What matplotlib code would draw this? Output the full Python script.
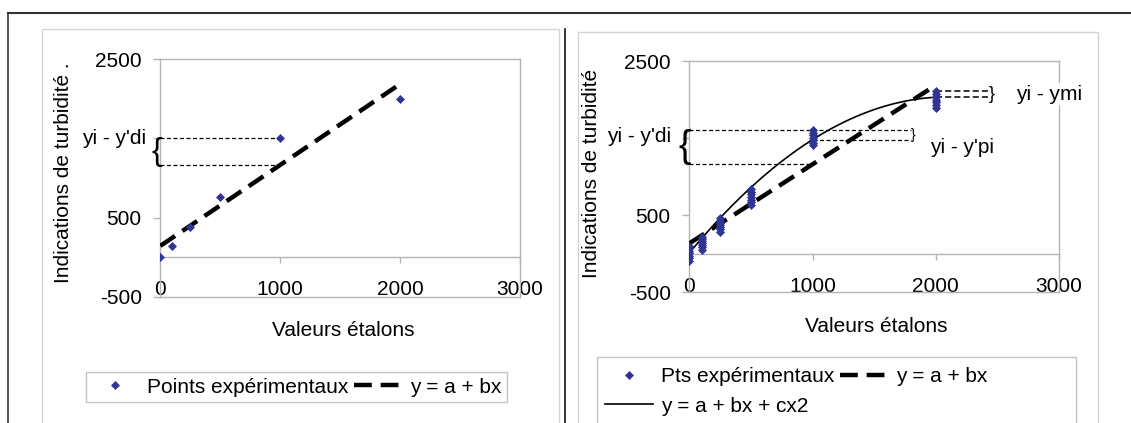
# -*- coding: utf-8 -*-
"""
Indications de turbidité vs valeurs étalons :
droite d'étalonnage (gauche) et comparaison linéaire / quadratique (droite).
"""
import numpy as np
import matplotlib
matplotlib.use("Agg")
import matplotlib.pyplot as plt
from matplotlib.lines import Line2D
from matplotlib.patches import Rectangle
from matplotlib.ticker import FuncFormatter

# ---- données ----
x_etalons = [0, 100, 250, 500, 1000, 2000]
y_gauche = [0, 145, 385, 760, 1500, 2000]
# répétitions pour chaque étalon (graphique de droite)
y_droite = [
    [-90, -55, -25, 5, 35, 70, 100],
    [55, 85, 110, 135, 165, 190, 220],
    [285, 315, 345, 370, 400, 430, 465],
    [635, 670, 700, 735, 770, 805, 840],
    [1405, 1440, 1470, 1500, 1535, 1565, 1600],
    [1895, 1930, 1965, 2000, 2035, 2070, 2105],
]
# coefficients lus pour y = a + bx + cx2  (ordre numpy : c, b, a)
coef_quad = [-4.6e-4, 1.93, 10]

xticks = [0, 1000, 2000, 3000]
yticks = [-500, 500, 1500, 2500]
xlabel = "Valeurs étalons"

W, H = 1131, 423
BLEU = "#2f3496"
GRIS = "#b4b4b4"
FS = 15

plt.rcParams["font.family"] = ["Liberation Sans", "DejaVu Sans"]
plt.rcParams["axes.unicode_minus"] = False
fig = plt.figure(figsize=(W / 100, H / 100), dpi=100)


def fx(px):
    return px / W


def fy(py):
    return 1 - py / H


# cadre du document
fig.add_artist(Line2D([fx(8), 1], [fy(12.7), fy(12.7)], color="#333333", lw=1.5))
fig.add_artist(Line2D([fx(8), fx(8)], [fy(12.7), 0], color="#333333", lw=1.2))
fig.add_artist(Line2D([fx(565), fx(565)], [fy(29), 0], color="#111111", lw=1.2))
# zones de graphique
fig.add_artist(Rectangle((fx(41.7), -0.1), fx(559) - fx(41.7), fy(29.5) + 0.1,
                         fill=False, ec="#d4d4d4", lw=1))
fig.add_artist(Rectangle((fx(577.7), -0.1), fx(1098.3) - fx(577.7), fy(31.7) + 0.1,
                         fill=False, ec="#d4d4d4", lw=1))

# l'étiquette 1500 est masquée par l'annotation yi - y'di
fmt_y = FuncFormatter(lambda v, p: "" if v == 1500 else f"{v:.0f}")


def prepare_axe(ax):
    ax.set_xlim(0, 3000)
    ax.set_ylim(-500, 2500)
    ax.set_xticks(xticks)
    ax.set_yticks(yticks)
    ax.yaxis.set_major_formatter(fmt_y)
    ax.spines["bottom"].set_position(("data", 0))
    for s in ax.spines.values():
        s.set_color(GRIS)
        s.set_linewidth(1)
    ax.axhline(-500, color=GRIS, lw=1, clip_on=False)
    ax.tick_params(axis="y", direction="out", length=5, width=1, color=GRIS,
                   pad=8.4, labelsize=FS)
    ax.tick_params(axis="x", direction="out", length=4.3, width=1, color=GRIS,
                   pad=12.5, labelsize=FS)


lin_style = dict(color="black", lw=3.2, dashes=(4, 2), solid_capstyle="butt",
                 dash_capstyle="butt")
fin_style = dict(color="black", lw=0.9, linestyle=(0, (3.2, 2)))
pts_style = dict(linestyle="none", marker="D", ms=3.6, mfc=BLEU, mec=BLEU, mew=0.5)

# ---------------- graphique de gauche ----------------
ax1 = fig.add_axes([fx(160.3), fy(296.7), fx(520) - fx(160.3), fy(59.3) - fy(296.7)])
prepare_axe(ax1)
b1, a1 = np.polyfit(x_etalons, y_gauche, 1)
xl = np.array([min(x_etalons), max(x_etalons)])
ax1.plot(xl, a1 + b1 * xl, zorder=3, **lin_style)
ax1.plot(x_etalons, y_gauche, zorder=4, **pts_style)

xi = x_etalons[4]
y_haut = y_gauche[4]
y_bas = a1 + b1 * xi
ax1.plot([0, xi], [y_haut, y_haut], clip_on=False, **fin_style)
ax1.plot([0, xi], [y_bas, y_bas], clip_on=False, **fin_style)
ax1.text(-30, (y_haut + y_bas) / 2, "{", fontsize=23, ha="center", va="center")
ax1.text(-120, y_haut, "yi - y'di", fontsize=FS, ha="right", va="center",
         bbox=dict(fc="white", ec="none", pad=1), zorder=5)

fig.text(fx(63.3), fy(173), "Indications de turbidité .", rotation=90,
         fontsize=FS, ha="center", va="center")
fig.text(fx(343), fy(330), xlabel, fontsize=FS, ha="center", va="center")

h_pts = Line2D([], [], **pts_style)
h_lin = Line2D([], [], **lin_style)
h_quad = Line2D([], [], color="black", lw=1.2)
leg_style = dict(fontsize=FS, fancybox=False, framealpha=1,
                 edgecolor="#c4c4c4", borderaxespad=0, borderpad=0.25,
                 handlelength=2.3, handletextpad=0.4, columnspacing=0.25,
                 numpoints=1)
leg1 = fig.legend([h_pts, h_lin], ["Points expérimentaux", "y = a + bx"], ncol=2,
                  loc="upper left", bbox_to_anchor=(fx(85.7), fy(372.3)),
                  frameon=True, **leg_style)
leg1.get_frame().set_linewidth(1)

# ---------------- graphique de droite ----------------
ax2 = fig.add_axes([fx(689.3), fy(292.3), fx(1059) - fx(689.3), fy(61) - fy(292.3)])
prepare_axe(ax2)
xs = np.repeat(x_etalons, [len(r) for r in y_droite])
ys = np.concatenate(y_droite)
b2, a2 = np.polyfit(xs, ys, 1)
xc = np.linspace(0, max(x_etalons), 200)
ax2.plot(xl, a2 + b2 * xl, zorder=3, **lin_style)
ax2.plot(xc, np.polyval(coef_quad, xc), color="black", lw=1.2, zorder=3)
ax2.plot(xs, ys, zorder=4, **pts_style)

# écarts au point 1000
xi = x_etalons[4]
y_haut = max(y_droite[4])
y_lin = a2 + b2 * xi
y_quad = np.polyval(coef_quad, xi)
ax2.plot([0, 1800], [y_haut, y_haut], clip_on=False, **fin_style)
ax2.plot([0, xi], [y_lin, y_lin], clip_on=False, **fin_style)
ax2.plot([xi, 1800], [y_quad, y_quad], clip_on=False, **fin_style)
ax2.text(-35, (y_haut + y_lin) / 2, "{", fontsize=27, ha="center", va="center")
ax2.text(-148, y_haut - 80, "yi - y'di", fontsize=FS, ha="right", va="center",
         bbox=dict(fc="white", ec="none", pad=1), zorder=5)
ax2.text(1818, (y_haut + y_quad) / 2, "}", fontsize=10, ha="center", va="center")
ax2.text(1952, 1376, "yi - y'pi", fontsize=FS, ha="left", va="center")

# écarts au point 2000
xj = x_etalons[5]
y_haut2 = max(y_droite[5])
y_quad2 = np.polyval(coef_quad, xj)
big_dash = dict(color="black", lw=1.1, linestyle=(0, (4, 2)))
ax2.plot([xj, 2420], [y_haut2, y_haut2], clip_on=False, **big_dash)
ax2.plot([xj, 2420], [y_quad2, y_quad2], clip_on=False, **big_dash)
ax2.text(2452, (y_haut2 + y_quad2) / 2, "}", fontsize=13, ha="center", va="center")
ax2.text(2655, (y_haut2 + y_quad2) / 2, "yi - ymi", fontsize=FS, ha="left",
         va="center", bbox=dict(fc="white", ec="none", pad=1), zorder=5)

fig.text(fx(591.7), fy(173), "Indications de turbidité", rotation=90,
         fontsize=FS, ha="center", va="center")
fig.text(fx(876.7), fy(326.7), xlabel, fontsize=FS, ha="center", va="center")

# légende de droite : cadre coupé par le bas de la page
fig.add_artist(Rectangle((fx(597), -0.1), fx(1075.8) - fx(597), fy(357.3) + 0.1,
                         fill=False, ec="#c4c4c4", lw=1))
leg2 = fig.legend([h_pts, h_quad, h_lin],
                  ["Pts expérimentaux", "y = a + bx + cx2", "y = a + bx"], ncol=2,
                  loc="upper left", bbox_to_anchor=(fx(600), fy(362)),
                  labelspacing=0.5, frameon=False, **leg_style)

fig.savefig("out.png", dpi=100)
